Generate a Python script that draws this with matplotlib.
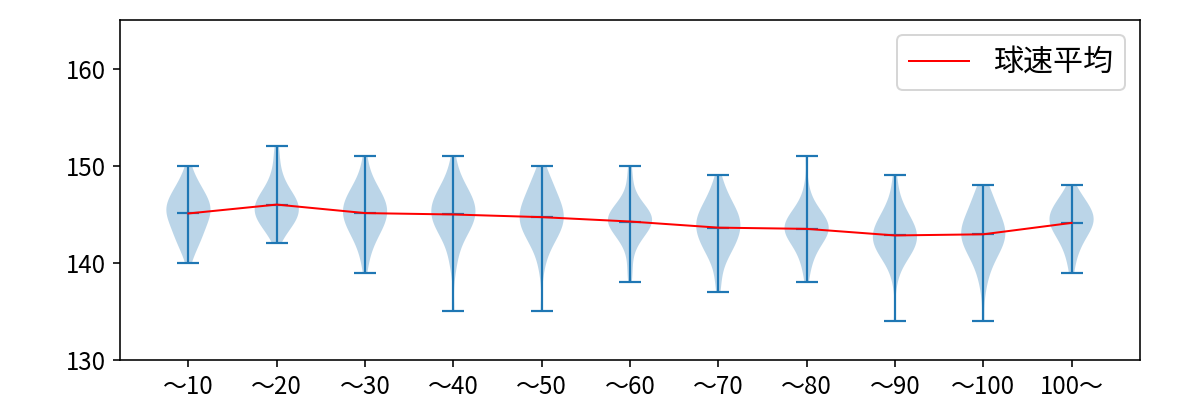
import numpy as np
import matplotlib
matplotlib.use("Agg")
from matplotlib import pyplot as plt

plt.rcParams['font.family'] = ['Noto Sans CJK JP', 'DejaVu Sans']

labels = ['〜10', '〜20', '〜30', '〜40', '〜50', '〜60', '〜70', '〜80', '〜90', '〜100', '100〜']
# lowest speed in each bin (km/h), then pitch counts per 1 km/h from there upward
low = [140, 142, 139, 135, 135, 138, 137, 138, 134, 134, 139]
counts = [
    [1, 2, 4, 5, 6, 8, 8, 6, 4, 2, 1],
    [1, 3, 6, 8, 8, 6, 3, 2, 1, 1, 1],
    [1, 1, 2, 3, 5, 7, 8, 8, 6, 4, 2, 1, 1],
    [1, 0, 0, 0, 1, 1, 2, 2, 5, 7, 8, 8, 6, 4, 2, 1, 1],
    [1, 0, 0, 0, 1, 1, 2, 4, 6, 8, 8, 7, 5, 4, 3, 1],
    [1, 1, 1, 1, 3, 6, 10, 10, 5, 2, 1, 1, 1],
    [1, 1, 1, 2, 4, 6, 7, 8, 7, 5, 3, 2, 1],
    [1, 1, 2, 3, 5, 9, 9, 6, 3, 1, 1, 0, 0, 1],
    [1, 0, 0, 0, 1, 1, 3, 6, 8, 8, 7, 4, 3, 1, 1, 1],
    [1, 0, 0, 1, 1, 2, 3, 5, 7, 8, 7, 5, 4, 3, 2],
    [1, 1, 2, 3, 5, 7, 7, 5, 3, 1],
]

speeds = [np.repeat(np.arange(lo, lo + len(c)), c) for lo, c in zip(low, counts)]
means = [s.mean() for s in speeds]
pos = np.arange(1, len(labels) + 1)

fig, ax = plt.subplots(figsize=(1200 / 144, 400 / 144), dpi=144)
fig.subplots_adjust(left=0.1, right=0.95, bottom=0.1, top=0.95)

parts = ax.violinplot(speeds, positions=pos, showmeans=True, showextrema=True)
for key in ('cbars', 'cmins', 'cmaxes', 'cmeans'):
    parts[key].set_linewidth(1.1)
ax.plot(pos, means, color='red', linewidth=1.0, label='球速平均')

ax.set_ylim(130, 165)
ax.set_yticks([130, 140, 150, 160])
ax.set_xticks(pos)
ax.set_xticklabels(labels)
ax.tick_params(labelsize=12)
ax.legend(loc='upper right', fontsize=15)

fig.savefig('out.png', dpi=144)
